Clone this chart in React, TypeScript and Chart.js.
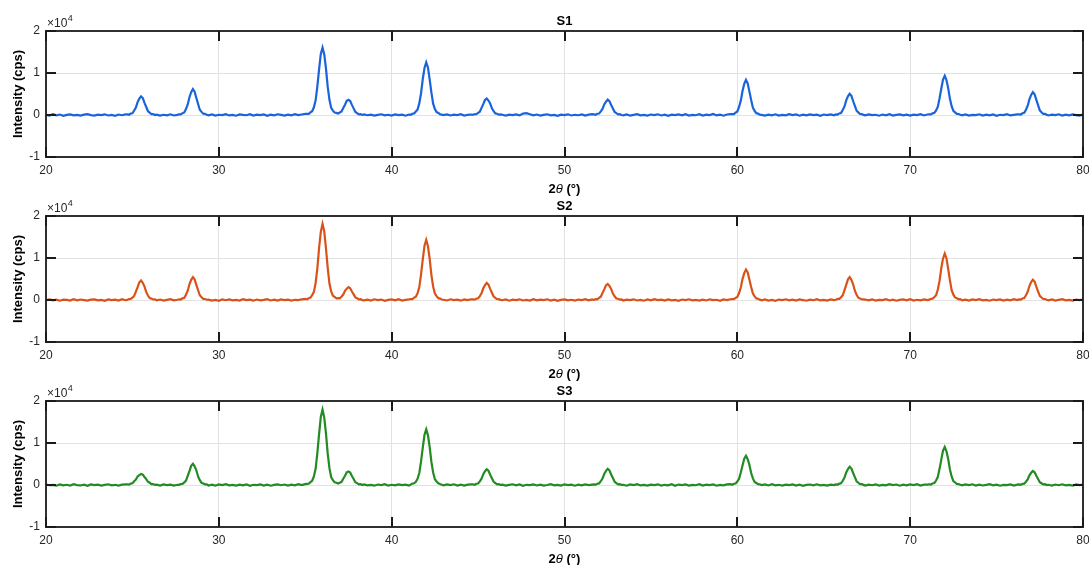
import React, { useEffect, useRef } from "react";
import { Chart, registerables } from "chart.js";

Chart.register(...registerables);

// 2θ sampling grid (degrees), shared by all three samples
const TWO_THETA = [
  20, 20.2, 20.4, 20.6, 20.8, 21, 21.2, 21.4, 21.6, 21.8, 22, 22.2, 22.4, 22.6, 22.8, 23, 23.2, 23.4, 23.6, 23.8, 24, 24.2, 24.4, 24.6,
  24.7, 24.8, 24.9, 25, 25.1, 25.2, 25.3, 25.4, 25.5, 25.6, 25.7, 25.8, 25.9, 26, 26.1, 26.2, 26.3,
  26.4, 26.6, 26.8, 27, 27.2, 27.4, 27.6,
  27.7, 27.8, 27.9, 28, 28.1, 28.2, 28.3, 28.4, 28.5, 28.6, 28.7, 28.8, 28.9, 29, 29.1, 29.2, 29.3,
  29.4, 29.6, 29.8, 30, 30.2, 30.4, 30.6, 30.8, 31, 31.2, 31.4, 31.6, 31.8, 32, 32.2, 32.4, 32.6, 32.8, 33, 33.2, 33.4, 33.6, 33.8, 34, 34.2, 34.4, 34.6, 34.8, 35,
  35.1, 35.2, 35.3, 35.4, 35.5, 35.6, 35.7, 35.8, 35.9, 36, 36.1, 36.2, 36.3, 36.4, 36.5, 36.6, 36.7, 36.8, 36.9, 37, 37.1, 37.2, 37.3, 37.4, 37.5, 37.6, 37.7, 37.8, 37.9, 38, 38.1, 38.2, 38.3,
  38.4, 38.6, 38.8, 39, 39.2, 39.4, 39.6, 39.8, 40, 40.2, 40.4, 40.6, 40.8, 41,
  41.1, 41.2, 41.3, 41.4, 41.5, 41.6, 41.7, 41.8, 41.9, 42, 42.1, 42.2, 42.3, 42.4, 42.5, 42.6, 42.7, 42.8, 42.9,
  43, 43.2, 43.4, 43.6, 43.8, 44, 44.2, 44.4, 44.6,
  44.7, 44.8, 44.9, 45, 45.1, 45.2, 45.3, 45.4, 45.5, 45.6, 45.7, 45.8, 45.9, 46, 46.1, 46.2, 46.3,
  46.4, 46.6, 46.8, 47, 47.2, 47.4, 47.6, 47.8, 48, 48.2, 48.4, 48.6, 48.8, 49, 49.2, 49.4, 49.6, 49.8, 50, 50.2, 50.4, 50.6, 50.8, 51, 51.2, 51.4, 51.6,
  51.7, 51.8, 51.9, 52, 52.1, 52.2, 52.3, 52.4, 52.5, 52.6, 52.7, 52.8, 52.9, 53, 53.1, 53.2, 53.3,
  53.4, 53.6, 53.8, 54, 54.2, 54.4, 54.6, 54.8, 55, 55.2, 55.4, 55.6, 55.8, 56, 56.2, 56.4, 56.6, 56.8, 57, 57.2, 57.4, 57.6, 57.8, 58, 58.2, 58.4, 58.6, 58.8, 59, 59.2, 59.4, 59.6,
  59.7, 59.8, 59.9, 60, 60.1, 60.2, 60.3, 60.4, 60.5, 60.6, 60.7, 60.8, 60.9, 61, 61.1, 61.2, 61.3,
  61.4, 61.6, 61.8, 62, 62.2, 62.4, 62.6, 62.8, 63, 63.2, 63.4, 63.6, 63.8, 64, 64.2, 64.4, 64.6, 64.8, 65, 65.2, 65.4, 65.6,
  65.7, 65.8, 65.9, 66, 66.1, 66.2, 66.3, 66.4, 66.5, 66.6, 66.7, 66.8, 66.9, 67, 67.1, 67.2, 67.3,
  67.4, 67.6, 67.8, 68, 68.2, 68.4, 68.6, 68.8, 69, 69.2, 69.4, 69.6, 69.8, 70, 70.2, 70.4, 70.6, 70.8, 71,
  71.1, 71.2, 71.3, 71.4, 71.5, 71.6, 71.7, 71.8, 71.9, 72, 72.1, 72.2, 72.3, 72.4, 72.5, 72.6, 72.7, 72.8, 72.9,
  73, 73.2, 73.4, 73.6, 73.8, 74, 74.2, 74.4, 74.6, 74.8, 75, 75.2, 75.4, 75.6, 75.8, 76, 76.2,
  76.3, 76.4, 76.5, 76.6, 76.7, 76.8, 76.9, 77, 77.1, 77.2, 77.3, 77.4, 77.5, 77.6, 77.7, 77.8, 77.9,
  78, 78.2, 78.4, 78.6, 78.8, 79, 79.2, 79.4, 79.6, 79.8, 80,
];

// Intensity (cps) for each sample, same order as TWO_THETA
const S1_INTENSITY = [
  50, -120, 180, -60, 110, -200, 30, 150, -90, 20, -160, 90, 200, -40, -130, 70, -20, 160, -110, 40, -180, 110, -50, 130,
  140, 60, 350, 420, 1080, 1790, 3070, 3890, 4450, 4040, 2900, 1910, 890, 560, 190, 230, -10,
  90, -140, 60, -70, 170, -110, 40,
  180, 150, 450, 610, 1410, 2510, 4230, 5420, 6150, 5560, 4060, 2630, 1260, 740, 300, 290, 40,
  -80, 130, -150, 60, -20, 190, -100, 40, -170, 120, 10, -60, 210, -130, 80, -40, 150, -190, 60, -90, 170, 20, -140, 100, -60, 180, -20, 110, 250,
  250, 280, 640, 900, 1830, 3480, 6840, 10870, 14560, 16050, 14420, 11030, 6690, 3610, 1700, 1040, 580, 510, 350, 590, 830, 1660, 2450, 3370, 3600, 3330, 2410, 1580, 720, 460, 150, 190, 10,
  120, -60, 80, -150, 30, 170, -90, 60, -120, 140, -30, 90, -170, 110,
  60, 310, 380, 820, 1310, 2820, 5180, 8570, 11190, 12540, 11310, 8430, 5320, 2690, 1440, 690, 500, 190, 90,
  -40, 150, -110, 70, -20, 180, -130, 50, 120,
  20, 210, 180, 500, 790, 1700, 2580, 3580, 3940, 3450, 2720, 1580, 920, 370, 300, 80, 140,
  60, -130, 90, -40, 150, -100, 350, 420, 180, -60, 110, -150, 40, 170, -80, 20, -190, 90, -30, 160, -110, 50, -60, 140, -140, 80, 190,
  130, 60, 290, 340, 860, 1450, 2520, 3170, 3650, 3300, 2380, 1570, 720, 450, 160, 190, 10,
  -70, 120, -160, 40, 190, -90, 20, -140, 110, -30, 170, -110, 60, -190, 90, -20, 150, -80, 210, -130, 40, -60, 180, -150, 70, -10, 230, -100, 60, -170, 120, 200,
  230, 220, 570, 850, 1900, 3420, 5720, 7400, 8350, 7540, 5560, 3550, 1750, 980, 430, 340, 100,
  40, -150, 100, -60, 170, -120, 20, -80, 190, -30, 130, -170, 60, -100, 150, -40, 80, -190, 110, -20, 160, -70,
  160, 110, 380, 490, 1170, 2040, 3470, 4430, 5050, 4560, 3330, 2160, 1030, 620, 240, 230, 30,
  -90, 140, -30, 60, -170, 110, -60, 190, -120, 30, 150, -80, 70, -140, 100, -40, 180, -110, 120,
  180, 130, 400, 500, 1090, 1980, 3980, 6250, 8440, 9350, 8300, 6400, 3840, 2110, 960, 620, 260, 240, 50,
  -60, 150, -120, 40, -30, 170, -140, 80, -70, 130, -180, 60, -20, 190, -100, 30, 140,
  170, 120, 400, 530, 1260, 2200, 3750, 4790, 5450, 4930, 3600, 2330, 1110, 660, 250, 260, 40,
  -110, 90, -40, 170, -150, 60, -80, 130, -20, -160, 80,
];

const S2_INTENSITY = [
  -30, 140, -100, 60, -170, 90, 20, -130, 180, -60, 110, -20, -150, 70, 160, -90, 40, -180, 120, -10, 80, -140, 190, -50,
  30, 220, 240, 560, 960, 1990, 3060, 4210, 4640, 4090, 3190, 1870, 1070, 450, 330, 120, 150,
  -60, 110, -150, 40, 180, -90, 70,
  170, 120, 390, 540, 1250, 2210, 3740, 4800, 5440, 4920, 3600, 2320, 1120, 650, 270, 240, 60,
  90, -120, 40, -180, 130, -50, 160, -90, 20, -140, 190, -30, 70, -160, 110, -70, 30, 180, -110, 60, -150, 140, -20, 90, -130, 50, -40, 170, 280,
  160, 420, 580, 1150, 1940, 4050, 7530, 12380, 16220, 18150, 16350, 12240, 7670, 3910, 2060, 1020, 750, 410, 460, 420, 830, 1290, 2180, 2700, 3080, 2790, 2010, 1350, 630, 410, 140, 200, -20,
  -90, 60, -140, 170, -30, 100, -180, 40, 130, -70, 190, -120, 20, 150,
  240, 230, 560, 800, 1630, 3080, 6080, 9650, 12940, 14350, 12800, 9790, 5930, 3210, 1510, 910, 440, 330, 110,
  60, -110, 170, -40, 90, -160, 120, -20, 180,
  150, 90, 310, 390, 940, 1620, 2790, 3540, 4050, 3660, 2650, 1740, 820, 500, 180, 200, 20,
  -50, 130, -170, 80, -20, 160, -110, 40, -140, 190, -60, 100, -30, 170, -120, 60, -180, 20, 140, -90, 50, -150, 110, -10, 180, -80, 120,
  10, 190, 170, 480, 780, 1650, 2520, 3480, 3830, 3370, 2640, 1540, 890, 360, 290, 70, 130,
  -130, 70, -40, 160, -110, 30, -170, 120, -60, 190, -20, 80, -150, 140, -90, 40, -180, 110, -30, 170, -70, 20, -140, 90, -110, 160, -40, 60, -190, 130, -20, 180,
  210, 190, 500, 740, 1650, 2960, 4970, 6410, 7250, 6540, 4830, 3090, 1520, 850, 370, 310, 80,
  -60, 150, -120, 40, -180, 100, -30, 170, -90, 60, -150, 130, -10, -170, 90, -50, 180, -100, 30, -140, 120, -40,
  50, 250, 280, 650, 1130, 2330, 3610, 4920, 5450, 4800, 3740, 2210, 1250, 540, 380, 130, 160,
  110, -80, 160, -140, 40, -30, 190, -110, 70, -170, 20, 130, -60, 180, -120, 50, -90, 140, -20,
  80, 290, 330, 720, 1150, 2490, 4550, 7550, 9840, 11050, 9960, 7410, 4690, 2360, 1270, 600, 440, 170, 200,
  -100, 60, -150, 130, -40, 180, -80, 20, -170, 110, -20, 150, -130, 70, -60, 190, -10,
  160, 110, 350, 470, 1120, 1950, 3330, 4260, 4840, 4380, 3190, 2080, 990, 590, 230, 220, 40,
  -70, 140, -120, 50, 180, -90, 20, -160, 110, -40, 130,
];

const S3_INTENSITY = [
  120, -60, 30, -170, 150, -90, 60, -130, 190, -20, -110, 80, -180, 140, -40, 100, -150, 20, 170, -70, 50, -120, 90, 160,
  140, 90, 330, 410, 890, 1300, 2020, 2360, 2640, 2470, 1890, 1410, 770, 530, 200, 210, 10,
  80, -120, 150, -40, 100, -160, 60,
  40, 240, 260, 610, 1040, 2170, 3330, 4560, 5040, 4440, 3470, 2040, 1160, 490, 360, 130, 150,
  -110, 70, -160, 120, -30, 180, -80, 40, -140, 100, -60, 160, -190, 50, -20, 130, -120, 90, -170, 20, 150, -50, 110, -140, 60, -90, 190, -30, 220,
  280, 300, 690, 1010, 2030, 3870, 7590, 12100, 16180, 17950, 16040, 12240, 7450, 4010, 1900, 1130, 640, 530, 350, 560, 750, 1490, 2190, 3010, 3230, 2980, 2150, 1440, 670, 440, 150, 210, 0,
  130, -70, 40, -160, 110, -20, 180, -120, 60, -90, 150, -40, 90, -150,
  100, 330, 400, 740, 1510, 2850, 5610, 8900, 11950, 13240, 11820, 9040, 5480, 2970, 1390, 850, 410, 220, 60,
  -80, 140, -30, 170, -120, 60, -160, 100, 150,
  130, 60, 290, 360, 870, 1500, 2580, 3270, 3740, 3390, 2450, 1610, 760, 460, 170, 190, 20,
  90, -140, 30, 170, -60, 120, -180, 50, -20, 150, -110, 80, -150, 10, 190, -70, 40, -130, 160, -40, 100, -170, 60, -90, 140, -10, 110,
  150, 80, 300, 370, 900, 1540, 2650, 3360, 3850, 3470, 2510, 1650, 780, 470, 170, 190, 10,
  60, -170, 120, -40, 190, -100, 30, -150, 80, -20, 160, -130, 50, -80, 170, -190, 100, -10, 140, -120, 20, -60, 180, -140, 90, -30, 130, -170, 40, -90, 150, 210,
  70, 300, 360, 820, 1460, 2960, 4620, 6280, 6950, 6150, 4760, 2840, 1580, 700, 470, 190, 170,
  -40, 130, -110, 180, -70, 50, -160, 100, -20, 150, -130, 70, -190, 40, 120, -60, 170, -100, 10, -150, 90, -30,
  150, 100, 320, 420, 1010, 1750, 2990, 3810, 4340, 3930, 2860, 1870, 890, 530, 200, 210, 30,
  -120, 90, -50, 160, -140, 30, -80, 180, -20, 110, -170, 60, -100, 140, -40, 190, -130, 70, 100,
  170, 120, 380, 490, 1060, 1920, 3850, 6050, 8170, 9040, 8040, 6190, 3710, 2050, 930, 600, 250, 230, 40,
  -90, 140, -30, 170, -150, 60, -110, 20, 190, -60, 100, -170, 40, -20, 150, -120, 80,
  130, 60, 270, 320, 790, 1330, 2310, 2910, 3340, 3030, 2180, 1440, 670, 420, 140, 180, 0,
  60, -130, 110, -50, 170, -90, 20, -160, 130, -30, 90,
];

const SAMPLE_NAMES = ["S1", "S2", "S3"];
const SAMPLE_SERIES = [S1_INTENSITY, S2_INTENSITY, S3_INTENSITY];
const X_TICKS = [20, 30, 40, 50, 60, 70, 80];
const Y_TICKS = [-1, 0, 1, 2]; // in units of 10^4 cps
const Y_EXPONENT = 4;
const LINE_COLORS = ["#1a64db", "#d95319", "#228b22"];

const FONT = "'Liberation Sans', Arial, Helvetica, sans-serif";
const TEXT = "#262626";
const CANVAS_W = 1089;
const CANVAS_H = 200;
const PANEL_STEP = 185;

const framePlugin = {
  id: "matlabFrame",
  afterDraw(chart: any) {
    const { ctx, chartArea, scales } = chart;
    const { left, right, top, bottom } = chartArea;
    const name = chart.options.plugins.matlabFrame.name;
    const cx = (left + right) / 2;
    ctx.save();
    // box
    ctx.strokeStyle = "#303030";
    ctx.lineWidth = 2;
    ctx.strokeRect(left, top, right - left, bottom - top);
    // inward ticks
    ctx.strokeStyle = "#1a1a1a";
    ctx.beginPath();
    X_TICKS.forEach((v) => {
      const px = Math.round(scales.x.getPixelForValue(v));
      ctx.moveTo(px, bottom);
      ctx.lineTo(px, bottom - 10);
      ctx.moveTo(px, top);
      ctx.lineTo(px, top + 10);
    });
    Y_TICKS.forEach((v) => {
      const py = Math.round(scales.y.getPixelForValue(v * Math.pow(10, Y_EXPONENT)));
      ctx.moveTo(left, py);
      ctx.lineTo(left + 10, py);
      ctx.moveTo(right, py);
      ctx.lineTo(right - 10, py);
    });
    ctx.stroke();

    // title
    ctx.fillStyle = "#000";
    ctx.font = `bold 13px ${FONT}`;
    ctx.textAlign = "center";
    ctx.textBaseline = "middle";
    ctx.fillText(name, cx, 21);

    // exponent label
    ctx.fillStyle = TEXT;
    ctx.textAlign = "left";
    ctx.font = `12px ${FONT}`;
    const base = "\u00d710";
    ctx.fillText(base, left + 1, 24);
    const bw = ctx.measureText(base).width;
    ctx.font = `9px ${FONT}`;
    ctx.fillText(String(Y_EXPONENT), left + 1 + bw + 0.5, 19);

    // y axis title
    ctx.save();
    ctx.translate(18, (top + bottom) / 2);
    ctx.rotate(-Math.PI / 2);
    ctx.font = `bold 13px ${FONT}`;
    ctx.fillStyle = "#000";
    ctx.textAlign = "center";
    ctx.fillText("Intensity (cps)", 0, 0);
    ctx.restore();

    // x axis title: 2θ (°)
    const parts: [string, string][] = [
      ["2", `bold 13px ${FONT}`],
      ["\u03b8", `italic 13px ${FONT}`],
      [" (\u00b0)", `bold 13px ${FONT}`],
    ];
    let total = 0;
    parts.forEach(([t, f]) => {
      ctx.font = f;
      total += ctx.measureText(t).width;
    });
    let x = cx - total / 2;
    ctx.fillStyle = "#000";
    ctx.textAlign = "left";
    parts.forEach(([t, f]) => {
      ctx.font = f;
      ctx.fillText(t, x, bottom + 32);
      x += ctx.measureText(t).width;
    });
    ctx.restore();
  },
};

function Panel({ index }: { index: number }) {
  const ref = useRef<HTMLCanvasElement | null>(null);
  useEffect(() => {
    if (!ref.current) return;
    const ys = SAMPLE_SERIES[index];
    const n = Math.min(TWO_THETA.length, ys.length);
    const pts = [];
    for (let i = 0; i < n; i++) pts.push({ x: TWO_THETA[i], y: ys[i] });
    const scaleFactor = Math.pow(10, Y_EXPONENT);
    const chart = new Chart(ref.current, {
      type: "line",
      data: {
        datasets: [
          {
            data: pts,
            borderColor: LINE_COLORS[index],
            borderWidth: 2.2,
            pointRadius: 0,
            tension: 0,
            fill: false,
          },
        ],
      },
      options: {
        animation: false,
        responsive: false,
        maintainAspectRatio: false,
        events: [],
        layout: { padding: { top: 31, right: 6, left: 0, bottom: 0 } },
        plugins: {
          legend: { display: false },
          tooltip: { enabled: false },
          title: { display: false },
          matlabFrame: { name: SAMPLE_NAMES[index] },
        } as any,
        scales: {
          x: {
            type: "linear",
            min: 20,
            max: 80,
            afterBuildTicks: (s: any) => {
              s.ticks = X_TICKS.map((v) => ({ value: v }));
            },
            afterFit: (s: any) => {
              s.height = 43;
              s.paddingLeft = 0;
              s.paddingRight = 0;
            },
            grid: { color: "#e2e2e2", lineWidth: 1, drawTicks: false },
            border: { display: false },
            ticks: {
              autoSkip: false,
              maxRotation: 0,
              padding: 6,
              color: TEXT,
              font: { family: FONT, size: 12 },
              callback: (v: any) => String(v),
            },
          },
          y: {
            type: "linear",
            min: -1 * scaleFactor,
            max: 2 * scaleFactor,
            afterBuildTicks: (s: any) => {
              s.ticks = Y_TICKS.map((v) => ({ value: v * scaleFactor }));
            },
            afterFit: (s: any) => {
              s.width = 46;
              s.paddingTop = 0;
              s.paddingBottom = 0;
            },
            grid: { color: "#e2e2e2", lineWidth: 1, drawTicks: false },
            border: { display: false },
            ticks: {
              autoSkip: false,
              padding: 6,
              color: TEXT,
              font: { family: FONT, size: 12 },
              callback: (v: any) => String(Math.round(v / scaleFactor)),
            },
          },
        },
      } as any,
      plugins: [framePlugin],
    });
    return () => chart.destroy();
  }, [index]);
  return (
    <canvas
      ref={ref}
      width={CANVAS_W}
      height={CANVAS_H}
      style={{ position: "absolute", left: 0, top: index * PANEL_STEP, width: CANVAS_W, height: CANVAS_H }}
    />
  );
}

export default function App() {
  return (
    <div
      style={{
        position: "absolute",
        left: 0,
        top: 0,
        width: CANVAS_W,
        height: 565,
        overflow: "hidden",
        background: "#fff",
      }}
    >
      {SAMPLE_NAMES.map((_, i) => (
        <Panel key={i} index={i} />
      ))}
    </div>
  );
}
